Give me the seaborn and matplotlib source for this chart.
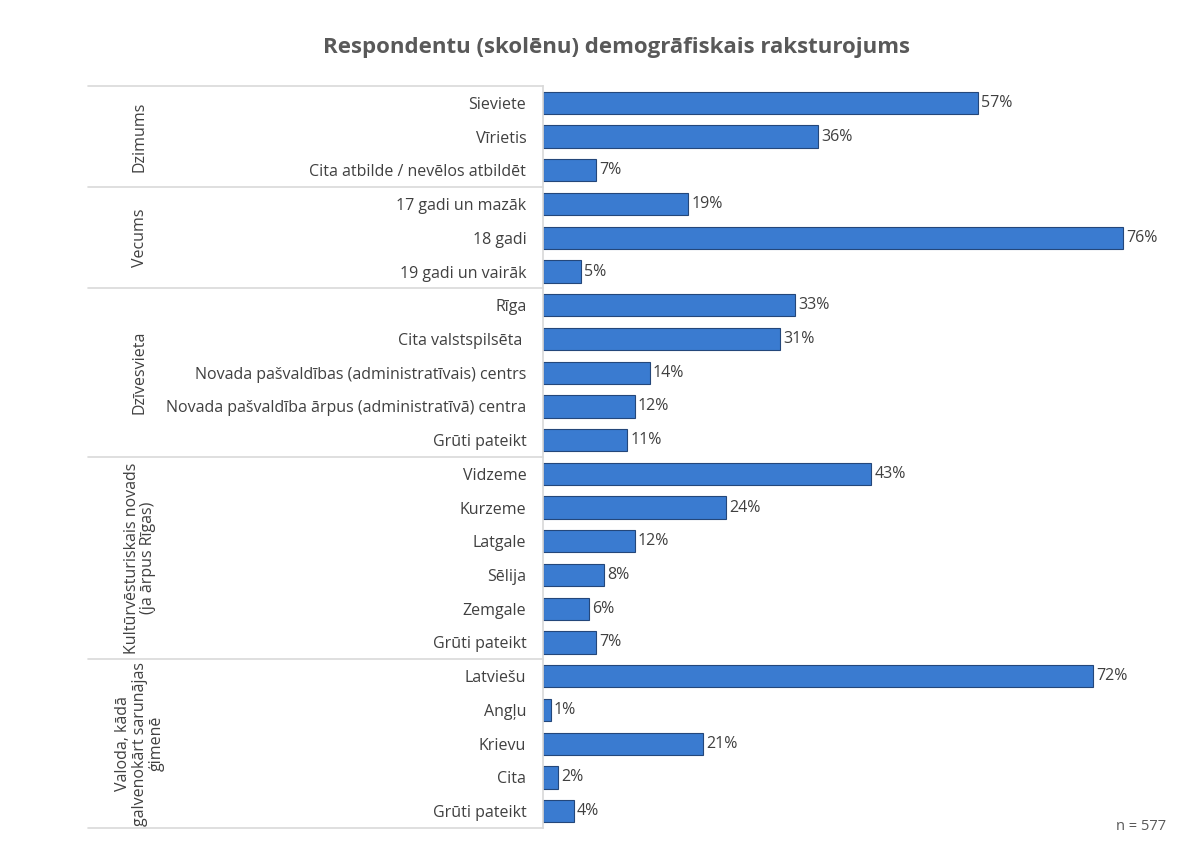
import matplotlib
matplotlib.use("Agg")
import matplotlib.pyplot as plt
import matplotlib.transforms as mtransforms
import seaborn as sns
import pandas as pd

# dati
groups = ["Dzimums", "Vecums", "Dzīvesvieta",
          "Kultūrvēsturiskais novads\n(ja ārpus Rīgas)",
          "Valoda, kādā\ngalvenokārt sarunājas\nģimenē"]
labels = [
    ["Sieviete", "Vīrietis", "Cita atbilde / nevēlos atbildēt"],
    ["17 gadi un mazāk", "18 gadi", "19 gadi un vairāk"],
    ["Rīga", "Cita valstspilsēta ", "Novada pašvaldības (administratīvais) centrs",
     "Novada pašvaldība ārpus (administratīvā) centra", "Grūti pateikt"],
    ["Vidzeme", "Kurzeme", "Latgale", "Sēlija", "Zemgale", "Grūti pateikt"],
    ["Latviešu", "Angļu", "Krievu", "Cita", "Grūti pateikt"],
]
values = [
    [57, 36, 7],
    [19, 76, 5],
    [33, 31, 14, 12, 11],
    [43, 24, 12, 8, 6, 7],
    [72, 1, 21, 2, 4],
]
n_text = "n = 577"

rows = []
for g, labs, vals in zip(groups, labels, values):
    for lab, v in zip(labs, vals):
        rows.append({"group": g, "label": lab, "value": v, "key": f"{g}|{lab}"})
df = pd.DataFrame(rows)

sns.set_theme(style="white")
plt.rcParams["font.family"] = ["Open Sans", "DejaVu Sans"]

fig = plt.figure(figsize=(11.97, 8.43), dpi=100)
ax = fig.add_axes([543 / 1197, 1 - 828 / 843, (1154 - 543) / 1197, (828 - 86) / 843])

bar_color = "#3A7BD0"
sns.barplot(data=df, x="value", y="key", orient="h", color=bar_color, saturation=1,
            edgecolor="#24477A", linewidth=0.8, width=0.66, ax=ax)

ax.set_xlim(0, 80)
ax.set_ylim(len(df) - 0.5, -0.5)
ax.set_xlabel("")
ax.set_ylabel("")
ax.set_xticks([])
ax.set_yticks(range(len(df)))
ax.set_yticklabels(df["label"], fontsize=11.5, color="#404040")
ax.tick_params(axis="y", length=0, pad=12)
for s in ["top", "right", "bottom"]:
    ax.spines[s].set_visible(False)
ax.spines["left"].set_color("#d9d9d9")

for i, v in enumerate(df["value"]):
    ax.text(v + 0.4, i, f"{v}%", va="center", ha="left", fontsize=11.5, color="#404040")

# grupu atdalītāji un nosaukumi
trans = mtransforms.blended_transform_factory(ax.transAxes, ax.transData)
x0 = (88 - 543) / (1154 - 543)
start = 0
bounds = [-0.5]
for g, labs in zip(groups, labels):
    end = start + len(labs)
    bounds.append(end - 0.5)
    mid = (start + end - 1) / 2
    ax.text(x0 + 0.085, mid, g, rotation=90, ha="center", va="center",
            multialignment="center", fontsize=11.5, color="#404040",
            transform=trans, linespacing=1.05)
    start = end
for b in bounds:
    ax.plot([x0, 0], [b, b], color="#d9d9d9", lw=1.2, transform=trans, clip_on=False)

fig.text(0.515, 1 - 47 / 843, "Respondentu (skolēnu) demogrāfiskais raksturojums",
         ha="center", va="center", fontsize=16, fontweight="bold", color="#595959")
fig.text(1166 / 1197, 1 - 827 / 843, n_text, ha="right", va="center",
         fontsize=10.5, color="#595959")

fig.savefig("out.png", dpi=100)
